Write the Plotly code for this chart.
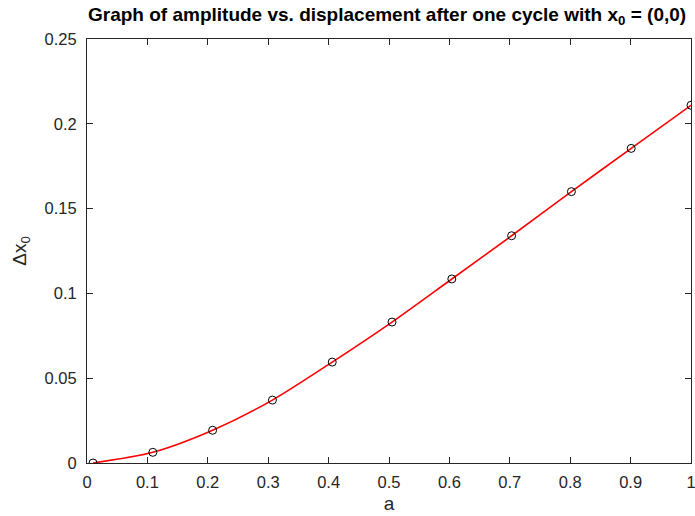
import plotly.graph_objects as go

a_vals = [0.01, 0.109, 0.208, 0.307, 0.406, 0.505, 0.604, 0.703, 0.802, 0.901, 1.0]
dx_vals = [0.0, 0.0063, 0.0193, 0.0371, 0.0595, 0.0831, 0.1085, 0.1340, 0.1600, 0.1855, 0.2109]

x_ticks = [0, 0.1, 0.2, 0.3, 0.4, 0.5, 0.6, 0.7, 0.8, 0.9, 1]
x_tick_text = ["0", "0.1", "0.2", "0.3", "0.4", "0.5", "0.6", "0.7", "0.8", "0.9", "1"]
y_ticks = [0, 0.05, 0.1, 0.15, 0.2, 0.25]
y_tick_text = ["0", "0.05", "0.1", "0.15", "0.2", "0.25"]

FONT = "Liberation Sans, Arial"

fig = go.Figure()
fig.add_trace(go.Scatter(
    x=a_vals, y=dx_vals, mode="lines",
    line=dict(color="#ff0000", width=1.6, shape="spline", smoothing=0.8),
    showlegend=False, hoverinfo="skip"))
fig.add_trace(go.Scatter(
    x=a_vals, y=dx_vals, mode="markers",
    marker=dict(symbol="circle-open", size=8, color="#000000", line=dict(width=1, color="#000000")),
    showlegend=False))

axis_common = dict(
    showgrid=False, zeroline=False, showline=True, linecolor="#262626", linewidth=1,
    mirror="ticks", ticks="inside", ticklen=6, tickcolor="#262626",
    tickfont=dict(family=FONT, size=16.5, color="#262626"),
    ticklabeloverflow="allow", automargin=False,
)

fig.update_layout(
    width=695, height=516,
    margin=dict(l=87, r=4, t=39, b=53, autoexpand=False),
    paper_bgcolor="white", plot_bgcolor="white",
    title=dict(
        text="<b>Graph of amplitude vs. displacement after one cycle with x<sub>0</sub> = (0,0)</b>",
        x=0.557, xanchor="center", y=0.972, yanchor="middle",
        font=dict(family=FONT, size=19, color="#000000")),
    xaxis=dict(range=[0, 1], tickvals=x_ticks, ticktext=x_tick_text, ticklabelstandoff=4,
               title=dict(text="a", font=dict(family=FONT, size=19, color="#262626"), standoff=6),
               **axis_common),
    yaxis=dict(range=[0, 0.25], tickvals=y_ticks, ticktext=y_tick_text, ticklabelstandoff=6,
               title=dict(text="Δx<sub>0</sub>", font=dict(family=FONT, size=19, color="#262626"), standoff=12),
               **axis_common),
)

fig.write_html("out.html")
